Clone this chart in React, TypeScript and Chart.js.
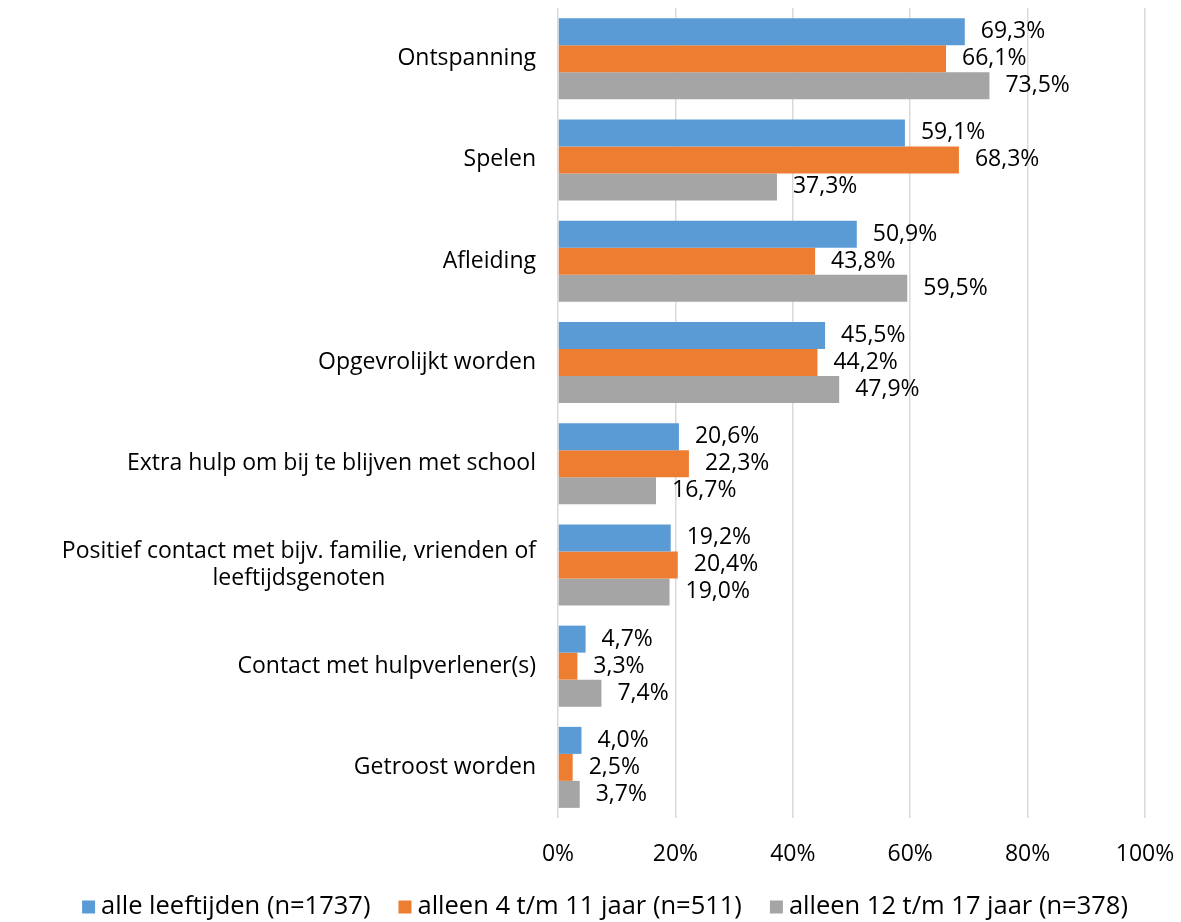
import React, { useEffect, useRef } from "react";
import { Chart, registerables } from "chart.js";

Chart.register(...registerables);

const categories: string[][] = [
  ["Ontspanning"],
  ["Spelen"],
  ["Afleiding"],
  ["Opgevrolijkt worden"],
  ["Extra hulp om bij te blijven met school"],
  ["Positief contact met bijv. familie, vrienden of", "leeftijdsgenoten"],
  ["Contact met hulpverlener(s)"],
  ["Getroost worden"],
];

const seriesNames = [
  "alle leeftijden (n=1737)",
  "alleen 4 t/m 11 jaar (n=511)",
  "alleen 12 t/m 17 jaar (n=378)",
];

const alleLeeftijden = [69.3, 59.1, 50.9, 45.5, 20.6, 19.2, 4.7, 4.0];
const alleen4tm11 = [66.1, 68.3, 43.8, 44.2, 22.3, 20.4, 3.3, 2.5];
const alleen12tm17 = [73.5, 37.3, 59.5, 47.9, 16.7, 19.0, 7.4, 3.7];

const xTicks = [0, 20, 40, 60, 80, 100];

const colors = ["#5B9BD5", "#ED7D31", "#A5A5A5"];
const FONT = "'Open Sans'";
const FS = 23;
const LEGEND_FS = 25.5;

const fmt = (v: number) => v.toFixed(1).replace(".", ",") + "%";

const W = 1181;
const H = 922;
const AXIS_LEFT = 558;
const LEGEND_CENTER_X = 605;
const LEGEND_Y = 907;

export default function App() {
  const ref = useRef<HTMLCanvasElement | null>(null);

  useEffect(() => {
    if (!ref.current) return;

    const yLabelPlugin = {
      id: "yLabels",
      afterDraw(chart: any) {
        const ctx = chart.ctx;
        const ys = chart.scales.y;
        ctx.save();
        ctx.font = `${FS}px ${FONT}`;
        ctx.fillStyle = "#000000";
        ctx.textAlign = "center";
        ctx.textBaseline = "middle";
        const right = chart.chartArea.left - 22;
        const lh = 27;
        categories.forEach((lines, i) => {
          const cy = ys.getPixelForValue(i);
          const bw = Math.max(...lines.map((l) => ctx.measureText(l).width));
          const cx = right - bw / 2;
          const top = cy - ((lines.length - 1) * lh) / 2;
          lines.forEach((l, k) => ctx.fillText(l, cx, top + k * lh));
        });
        ctx.restore();
      },
    };

    const valuePlugin = {
      id: "valueLabels",
      afterDatasetsDraw(chart: any) {
        const ctx = chart.ctx;
        ctx.save();
        ctx.font = `${FS}px ${FONT}`;
        ctx.fillStyle = "#000000";
        ctx.textAlign = "left";
        ctx.textBaseline = "middle";
        chart.data.datasets.forEach((ds: any, i: number) => {
          const meta = chart.getDatasetMeta(i);
          meta.data.forEach((bar: any, j: number) => {
            ctx.fillText(fmt(ds.data[j]), bar.x + 16, bar.y);
          });
        });
        ctx.restore();
      },
    };

    const legendPlugin = {
      id: "customLegend",
      afterDraw(chart: any) {
        const ctx = chart.ctx;
        ctx.save();
        ctx.font = `${LEGEND_FS}px ${FONT}`;
        ctx.textAlign = "left";
        ctx.textBaseline = "middle";
        const box = 13;
        const gapBoxText = 6;
        const gapItems = 28;
        const items = chart.data.datasets.map((ds: any) => ({
          label: ds.label as string,
          color: ds.backgroundColor as string,
          w: ctx.measureText(ds.label).width,
        }));
        const total =
          items.reduce((s: number, it: any) => s + box + gapBoxText + it.w, 0) +
          gapItems * (items.length - 1);
        let x = LEGEND_CENTER_X - total / 2;
        items.forEach((it: any) => {
          ctx.fillStyle = it.color;
          ctx.fillRect(x, LEGEND_Y - box / 2, box, box);
          x += box + gapBoxText;
          ctx.fillStyle = "#000000";
          ctx.fillText(it.label, x, LEGEND_Y);
          x += it.w + gapItems;
        });
        ctx.restore();
      },
    };

    const chart = new Chart(ref.current, {
      type: "bar",
      data: {
        labels: categories.map((c) => c.join(" ")),
        datasets: [
          { label: seriesNames[0], data: alleLeeftijden, backgroundColor: colors[0] },
          { label: seriesNames[1], data: alleen4tm11, backgroundColor: colors[1] },
          { label: seriesNames[2], data: alleen12tm17, backgroundColor: colors[2] },
        ],
      },
      options: {
        indexAxis: "y",
        responsive: false,
        animation: false,
        layout: { padding: { top: 8, right: 36, left: 0, bottom: 58 } },
        datasets: {
          bar: { categoryPercentage: 0.8, barPercentage: 1.0, borderWidth: 0 },
        },
        scales: {
          x: {
            min: 0,
            max: 100,
            afterBuildTicks: (s: any) => {
              s.ticks = xTicks.map((v) => ({ value: v }));
            },
            afterFit: (s: any) => {
              s.height = 46;
              s.paddingLeft = 0;
              s.paddingRight = 0;
            },
            ticks: {
              callback: (v: any) => v + "%",
              font: { family: FONT, size: FS },
              color: "#000000",
              padding: 23,
              maxRotation: 0,
            },
            grid: { color: "#D9D9D9", lineWidth: 1.5, drawTicks: false },
            border: { display: false },
          },
          y: {
            ticks: { display: false },
            grid: { display: false },
            border: { display: false },
            afterFit: (s: any) => {
              s.width = AXIS_LEFT;
            },
          },
        },
        plugins: {
          legend: { display: false },
          tooltip: { enabled: false },
        },
      },
      plugins: [yLabelPlugin, valuePlugin, legendPlugin],
    } as any);

    return () => chart.destroy();
  }, []);

  return (
    <div
      style={{
        position: "absolute",
        left: 0,
        top: 0,
        width: W,
        height: H,
        overflow: "hidden",
        background: "#ffffff",
      }}
    >
      <canvas ref={ref} width={W} height={H} style={{ display: "block" }} />
    </div>
  );
}
